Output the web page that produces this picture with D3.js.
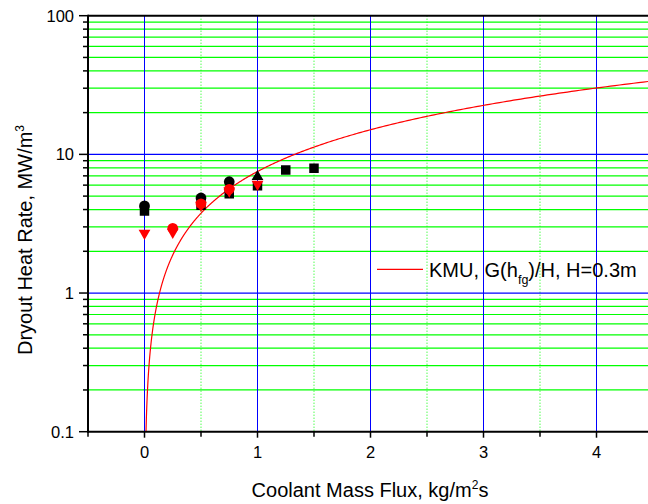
<!DOCTYPE html>
<html>
<head>
<meta charset="utf-8">
<script src="https://cdn.jsdelivr.net/npm/d3@7"></script>
<style>
  html, body { margin: 0; padding: 0; background: #fff; }
  svg { display: block; font-family: "Liberation Sans", Arial, sans-serif; }
</style>
</head>
<body>
<svg id="chart" width="648" height="504"></svg>
<script>
// ---- data: dryout heat rate (MW/m^3) vs coolant mass flux (kg/m^2 s) ----
const squareFlux   = [0, 0.5, 0.75, 1.0, 1.25, 1.5];
const squareRate   = [3.9, 4.3, 5.2, 5.95, 7.7, 7.95];

const circleFlux   = [0, 0.5, 0.75];
const circleRate   = [4.25, 4.85, 6.35];

const upTriFlux    = [1.0];
const upTriRate    = [6.9];

const redCircleFlux = [0.25, 0.5, 0.75];
const redCircleRate = [2.93, 4.4, 5.6];

const downTriFlux  = [0, 0.25, 0.5, 0.75, 1.0];
const downTriRate  = [2.7, 2.75, 4.3, 5.45, 6.1];

// model line: G * h_fg / H, with h_fg in MJ/kg and H in m
const hfg = 2.257;
const heightH = 0.3;

const xMajorTicks = [0, 1, 2, 3, 4];
const xMinorTicks = [-0.5, 0.5, 1.5, 2.5, 3.5, 4.5];
const yMajorTicks = [0.1, 1, 10, 100];
const yMajorLabels = ["0.1", "1", "10", "100"];

// ---- layout ----
const plot = { left: 88, right: 653, top: 15.7, bottom: 431.7 };
const svg = d3.select("#chart");

const x = d3.scaleLinear().domain([-0.5, 4.5]).range([plot.left, plot.right]);
const y = d3.scaleLog().domain([0.1, 100]).range([plot.bottom, plot.top]);

const yMinorTicks = [];
[0.1, 1, 10].forEach(d => { for (let k = 2; k <= 9; k++) yMinorTicks.push(d * k); });

svg.append("defs").append("clipPath").attr("id", "plotClip")
  .append("rect")
  .attr("x", plot.left).attr("y", plot.top)
  .attr("width", plot.right - plot.left).attr("height", plot.bottom - plot.top);

const grid = svg.append("g");

// minor horizontal grid (green, solid)
grid.selectAll(".ymin").data(yMinorTicks).join("line")
  .attr("x1", plot.left).attr("x2", plot.right)
  .attr("y1", d => y(d)).attr("y2", d => y(d))
  .attr("stroke", "#00ff00").attr("stroke-width", 1.2);

// minor vertical grid (green, dotted)
grid.selectAll(".xmin").data(xMinorTicks.filter(d => d > -0.5 && d < 4.5)).join("line")
  .attr("x1", d => x(d)).attr("x2", d => x(d))
  .attr("y1", plot.top).attr("y2", plot.bottom)
  .attr("stroke", "#00ff00").attr("stroke-width", 1)
  .attr("stroke-dasharray", "1,2");

// major horizontal grid (blue)
grid.selectAll(".ymaj").data([1, 10]).join("line")
  .attr("x1", plot.left).attr("x2", plot.right)
  .attr("y1", d => y(d)).attr("y2", d => y(d))
  .attr("stroke", "#0000ff").attr("stroke-width", 1.2);

// major vertical grid (blue)
grid.selectAll(".xmaj").data(xMajorTicks).join("line")
  .attr("x1", d => x(d)).attr("x2", d => x(d))
  .attr("y1", plot.top).attr("y2", plot.bottom)
  .attr("stroke", "#0000ff").attr("stroke-width", 1);

// ---- model curve ----
const curveFlux = d3.range(0, 601).map(i => 0.0133 * Math.pow(4.5 / 0.0133, i / 600));
const line = d3.line().x(d => x(d)).y(d => y(d * hfg / heightH));
svg.append("path")
  .datum(curveFlux)
  .attr("clip-path", "url(#plotClip)")
  .attr("d", line)
  .attr("fill", "none")
  .attr("stroke", "#ff0000")
  .attr("stroke-width", 1.2);

// ---- markers ----
const marks = svg.append("g").attr("clip-path", "url(#plotClip)");
function drawSeries(fx, fy, symbolType, size, color, rotate) {
  marks.append("g").selectAll("path")
    .data(fx.map((d, i) => [d, fy[i]]))
    .join("path")
    .attr("d", d3.symbol().type(symbolType).size(size))
    .attr("transform", d => `translate(${x(d[0])},${y(d[1])})` + (rotate ? " rotate(180)" : ""))
    .attr("fill", color);
}
drawSeries(squareFlux, squareRate, d3.symbolSquare, 90, "#000");
drawSeries(circleFlux, circleRate, d3.symbolCircle, 90, "#000");
drawSeries(upTriFlux, upTriRate, d3.symbolTriangle, 60, "#000", false);
drawSeries(redCircleFlux, redCircleRate, d3.symbolCircle, 90, "#ff0000");
drawSeries(downTriFlux, downTriRate, d3.symbolTriangle, 60, "#ff0000", true);

// ---- axes frame ----
const frame = svg.append("g").attr("stroke", "#000").attr("stroke-width", 2);
frame.append("line").attr("x1", plot.left).attr("x2", plot.right)
  .attr("y1", plot.bottom).attr("y2", plot.bottom);
frame.append("line").attr("x1", plot.left).attr("x2", plot.right)
  .attr("y1", plot.top).attr("y2", plot.top);
frame.append("line").attr("x1", plot.left).attr("x2", plot.left)
  .attr("y1", plot.top - 1).attr("y2", plot.bottom + 1);

// y ticks (outward, left)
const ticks = svg.append("g").attr("stroke", "#000").attr("stroke-width", 1.5);
ticks.selectAll(".ytmaj").data(yMajorTicks).join("line")
  .attr("x1", plot.left - 9).attr("x2", plot.left)
  .attr("y1", d => y(d)).attr("y2", d => y(d));
ticks.selectAll(".ytmin").data(yMinorTicks).join("line")
  .attr("x1", plot.left - 5).attr("x2", plot.left)
  .attr("y1", d => y(d)).attr("y2", d => y(d));
// x ticks (outward, below)
ticks.selectAll(".xtmaj").data(xMajorTicks).join("line")
  .attr("x1", d => x(d)).attr("x2", d => x(d))
  .attr("y1", plot.bottom).attr("y2", plot.bottom + 6);
ticks.selectAll(".xtmin").data(xMinorTicks).join("line")
  .attr("x1", d => x(d)).attr("x2", d => x(d))
  .attr("y1", plot.bottom).attr("y2", plot.bottom + 5);

// tick labels
svg.append("g").selectAll("text").data(yMajorTicks).join("text")
  .attr("x", 74).attr("y", d => y(d) + 5.8)
  .attr("text-anchor", "end").attr("font-size", 16.5).attr("fill", "#000")
  .text((d, i) => yMajorLabels[i]);
svg.append("g").selectAll("text").data(xMajorTicks).join("text")
  .attr("x", d => x(d)).attr("y", 458)
  .attr("text-anchor", "middle").attr("font-size", 16.5).attr("fill", "#000")
  .text(d => String(d));

// axis titles
const xTitle = svg.append("text")
  .attr("x", 370).attr("y", 497)
  .attr("text-anchor", "middle").attr("font-size", 20).attr("fill", "#000");
xTitle.append("tspan").text("Coolant Mass Flux, kg/m");
xTitle.append("tspan").attr("font-size", 12).attr("dy", -8).text("2");
xTitle.append("tspan").attr("dy", 8).text("s");

const yTitle = svg.append("text")
  .attr("transform", "translate(32,240) rotate(-90)")
  .attr("text-anchor", "middle").attr("font-size", 20).attr("fill", "#000");
yTitle.append("tspan").text("Dryout Heat Rate, MW/m");
yTitle.append("tspan").attr("font-size", 12).attr("dy", -8).text("3");

// legend
svg.append("line")
  .attr("x1", 377).attr("x2", 423).attr("y1", 269.3).attr("y2", 269.3)
  .attr("stroke", "#ff0000").attr("stroke-width", 1.2);
const leg = svg.append("text")
  .attr("x", 429).attr("y", 277)
  .attr("font-size", 20).attr("fill", "#000");
leg.append("tspan").text("KMU, G(h");
leg.append("tspan").attr("font-size", 12.5).attr("dy", 7).text("fg");
leg.append("tspan").attr("dy", -7).text(")/H, H=0.3m");
</script>
</body>
</html>
